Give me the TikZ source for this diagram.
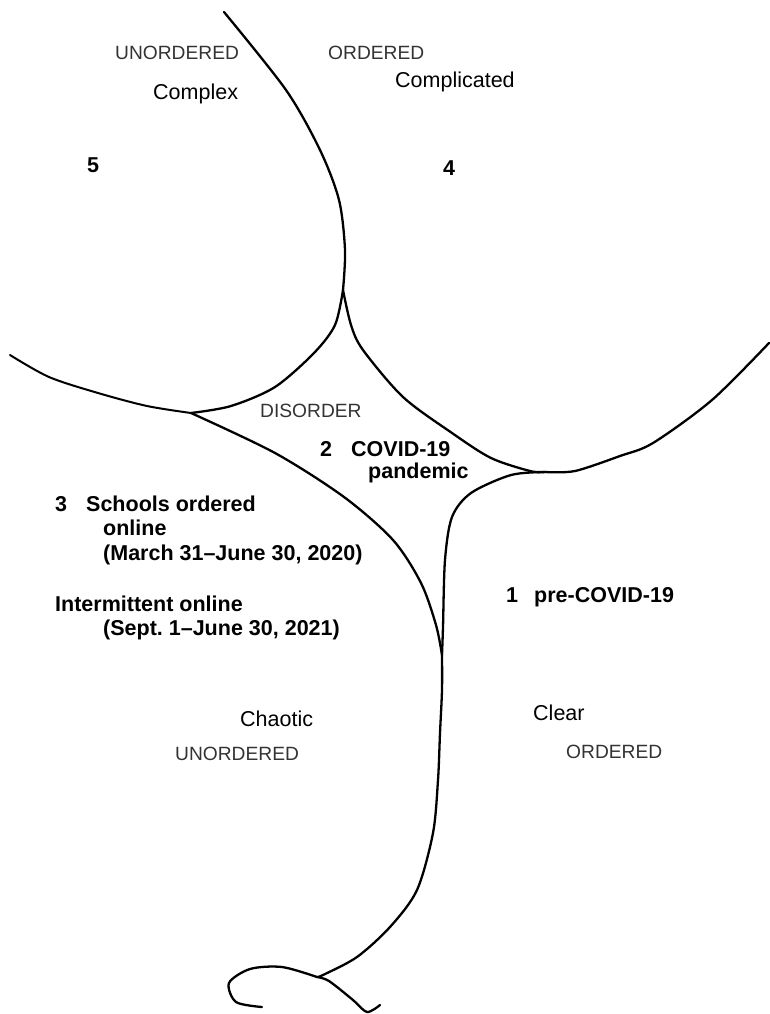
\documentclass[tikz,border=0pt]{standalone}
\usepackage{fontspec}
\setmainfont{Liberation Sans}
\usepackage{tikz}
\definecolor{labelgray}{HTML}{333333}

\tikzset{
  rim/.style={line width=2.3pt,line cap=round,line join=round,draw=black},
  realm/.style={anchor=base west,inner sep=0pt,font=\fontsize{21.5}{25}\selectfont},
  order/.style={anchor=base west,inner sep=0pt,text=labelgray,font=\fontsize{19.2}{23}\selectfont},
  phase/.style={anchor=base west,inner sep=0pt,font=\fontsize{21.5}{25}\selectfont\bfseries}
}

\begin{document}
\begin{tikzpicture}[x=1pt,y=-1pt]
\useasboundingbox (0,0) rectangle (770,1014);

% junctions of the boundary lines
\coordinate (split) at (343,290);
\coordinate (leftjn) at (191,413);
\coordinate (rightjn) at (545,472);
\coordinate (lowjn) at (442,655);
\coordinate (foot) at (317,977);

% boundaries
\draw[rim] plot[smooth] coordinates {(224,12) (286,90) (320,150) (339,200) (345,250) (split)};
\draw[rim] plot[smooth] coordinates {(split) (335,325) (314,353) (275,387) (231,406) (leftjn)};
\draw[rim,line width=2pt] plot[smooth] coordinates {(10,355) (49,377) (98,393) (147,406) (leftjn)};
\draw[rim] plot[smooth] coordinates {(split) (351,325) (363,350) (403,397) (452,433) (491,458) (530,471) (rightjn)};
\draw[rim] plot[smooth] coordinates {(769,343) (712,400) (653,443) (620,456) (575,471) (rightjn)};
\draw[rim] plot[smooth] coordinates {(rightjn) (511,475) (471,493) (452,517) (445,560) (443,627) (lowjn)};
\draw[rim] plot[smooth] coordinates {(leftjn) (275,453) (344,497) (393,540) (421,583) (436,625) (lowjn)};
\draw[rim] plot[smooth] coordinates {(lowjn) (442,690) (440,733) (438,780) (433,833) (417,890) (390,927) (357,957) (323,975) (foot)};
\draw[rim] plot[smooth] coordinates {(foot) (282,967) (250,969) (229,983) (236,1002) (262,1007)};
\draw[rim] plot[smooth] coordinates {(foot) (329,981) (353,1000) (367,1012) (380,1005)};

% domain names
\node[order] (unord-top) at (115,60) {UNORDERED};
\node[order] (ord-top) at (328,60) {ORDERED};
\node[realm] (complicated) at (395,88) {Complicated};
\node[realm] (complex) at (153,100) {Complex};
\node[phase] (five) at (87,172) {5};
\node[phase] (four) at (443,175) {4};
\node[order] (disorder) at (260,417) {DISORDER};
\node[realm] (chaotic) at (240,726) {Chaotic};
\node[order] (unord-low) at (175,760) {UNORDERED};
\node[realm] (clear) at (533,720) {Clear};
\node[order] (ord-low) at (566,758) {ORDERED};

% phases
\node[phase] (two) at (320,456) {2};
\node[phase] (covid) at (351,456) {COVID-19};
\node[phase] (pandemic) at (368,478) {pandemic};
\node[phase] (three) at (55,511) {3};
\node[phase] (schools) at (86,511) {Schools ordered};
\node[phase] (online) at (103,535) {online};
\node[phase] (spring) at (103,560) {(March 31–June 30, 2020)};
\node[phase] (intermittent) at (55,611) {Intermittent online};
\node[phase] (year) at (103,635) {(Sept.\ 1–June 30, 2021)};
\node[phase] (one) at (506,602) {1};
\node[phase] (pre) at (534,602) {pre-COVID-19};
\end{tikzpicture}
\end{document}
